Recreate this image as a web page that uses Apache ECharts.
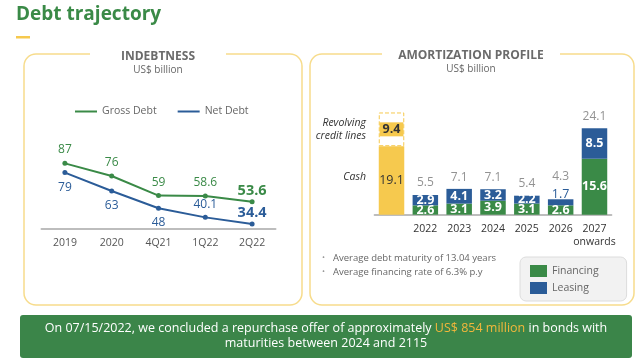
<!DOCTYPE html>
<html><head><meta charset="utf-8">
<script src="https://cdn.jsdelivr.net/npm/echarts@6/dist/echarts.min.js"></script>
<style>html,body{margin:0;padding:0;background:#fff}#c{width:640px;height:361px}</style>
</head><body><div id="c"></div>
<script>
// ---- data ----
var debtPeriods = ['2019', '2020', '4Q21', '1Q22', '2Q22'];
var grossDebt = [87, 76, 59, 58.6, 53.6];
var netDebt = [79, 63, 48, 40.1, 34.4];

var amortCats = ['', '2022', '2023', '2024', '2025', '2026', '2027\nonwards'];
var cash = [19.1, '-', '-', '-', '-', '-', '-'];
var revolving = [9.4, '-', '-', '-', '-', '-', '-'];
var financing = ['-', 2.6, 3.1, 3.9, 3.1, 2.6, 15.6];
var leasing = ['-', 2.9, 4.1, 3.2, 2.2, 1.7, 8.5];
var totals = ['-', 5.5, 7.1, 7.1, 5.4, 4.3, 24.1];

var GREEN = '#3a8a47', BLUE = '#2b5c98', YELLOW = '#f6c94e', GRAY = '#666';
var F = 'Open Sans';

var chart = echarts.init(document.getElementById('c'), null, {renderer: 'canvas'});

function bigLast(arr, color, posFn, distFn) {
  return arr.map(function (v, i) {
    var last = i === arr.length - 1;
    return {
      value: v,
      label: {
        position: posFn(i), distance: distFn(i),
        fontSize: last ? 14.5 : 12, fontWeight: last ? 'bold' : 'normal', color: color
      }
    };
  });
}

var option = {
  animation: false,
  textStyle: {fontFamily: F},
  grid: [
    {left: 41.5, width: 234, top: 148.4, height: 80.6},
    {left: 374.6, width: 236.8, top: 107.1, height: 107.6}
  ],
  xAxis: [
    {gridIndex: 0, type: 'category', data: debtPeriods, boundaryGap: true,
      axisLine: {lineStyle: {color: '#bdbdbd', width: 2}}, axisTick: {show: false},
      axisLabel: {color: '#555', fontSize: 10.5, margin: 9, fontFamily: F, interval: 0}},
    {gridIndex: 1, type: 'category', data: amortCats,
      axisLine: {lineStyle: {color: '#bdbdbd', width: 2}}, axisTick: {show: false},
      axisLabel: {color: '#333', fontSize: 10.5, margin: 8, lineHeight: 13, fontFamily: F, interval: 0}}
  ],
  yAxis: [
    {gridIndex: 0, type: 'value', min: 30, max: 100, show: false},
    {gridIndex: 1, type: 'value', min: 0, max: 30, show: false}
  ],
  legend: [
    {data: ['Gross Debt', 'Net Debt'], left: 75, top: 106, padding: 0, icon: 'rect', itemWidth: 22, itemHeight: 2,
      itemGap: 21, textStyle: {color: GRAY, fontSize: 10.5, fontFamily: F}},
    {data: ['Financing', 'Leasing'], orient: 'vertical', left: 520, top: 257, icon: 'rect',
      itemWidth: 17, itemHeight: 12, itemGap: 5, padding: [8, 28, 7, 10],
      backgroundColor: '#f2f2f2', borderColor: '#dcdcdc', borderWidth: 1, borderRadius: 6,
      textStyle: {color: GRAY, fontSize: 10.5, fontFamily: F}}
  ],
  series: [
    {name: 'Gross Debt', type: 'line', xAxisIndex: 0, yAxisIndex: 0, color: GREEN,
      data: bigLast(grossDebt, GREEN, function () { return 'top'; }, function (i) { return i === 4 ? 1 : 5; }),
      symbol: 'circle', symbolSize: 5, lineStyle: {width: 2},
      label: {show: true, fontFamily: F}},
    {name: 'Net Debt', type: 'line', xAxisIndex: 0, yAxisIndex: 0, color: BLUE,
      data: bigLast(netDebt, BLUE, function (i) { return i < 3 ? 'bottom' : 'top'; }, function (i) { return i < 3 ? 6 : (i === 4 ? 1 : 4); }),
      symbol: 'circle', symbolSize: 5, lineStyle: {width: 2},
      label: {show: true, fontFamily: F}},

    {name: 'Cash', type: 'bar', xAxisIndex: 1, yAxisIndex: 1, stack: 'a', data: cash, barWidth: 25.5,
      itemStyle: {color: YELLOW},
      label: {show: true, position: 'inside', color: '#333', fontSize: 12.5, fontFamily: F}},
    {name: 'Revolving', type: 'bar', xAxisIndex: 1, yAxisIndex: 1, stack: 'a', data: revolving, barWidth: 25.5,
      itemStyle: {color: '#fff', borderColor: YELLOW, borderWidth: 1, borderType: 'dashed'},
      label: {show: true, position: 'inside', color: '#333', fontSize: 12.5, fontWeight: 'bold', fontFamily: F,
        backgroundColor: YELLOW, padding: [1, 3, 0, 3]}},
    {name: 'Financing', type: 'bar', xAxisIndex: 1, yAxisIndex: 1, stack: 'a', data: financing, barWidth: 25.5,
      itemStyle: {color: GREEN},
      label: {show: true, position: 'inside', color: '#fff', fontSize: 12.5, fontWeight: 'bold', fontFamily: F}},
    {name: 'Leasing', type: 'bar', xAxisIndex: 1, yAxisIndex: 1, stack: 'a', barWidth: 25.5,
      data: leasing.map(function (v, i) {
        return i === 5 ? {value: v, label: {position: 'top', distance: -2, color: BLUE, fontWeight: 'normal'}} : v;
      }),
      itemStyle: {color: BLUE},
      label: {show: true, position: 'inside', color: '#fff', fontSize: 12.5, fontWeight: 'bold', fontFamily: F}},
    {name: 'Total', type: 'scatter', xAxisIndex: 1, yAxisIndex: 1, symbolSize: 0,
      data: totals.map(function (v, i) {
        return i === 5 ? {value: v, label: {distance: 17}} : v;
      }),
      label: {show: true, position: 'top', distance: 6, color: '#777', fontSize: 12, fontFamily: F}}
  ],
  graphic: [
    {type: 'text', left: 16, top: 5, style: {text: 'Debt trajectory', fill: GREEN, font: 'bold 19px ' + F}},
    {type: 'rect', shape: {x: 16, y: 36, width: 14, height: 2.5}, style: {fill: YELLOW}},

    {type: 'rect', shape: {x: 24, y: 54, width: 278, height: 251, r: 12}, style: {fill: 'none', stroke: '#f7dc8c', lineWidth: 1.5}},
    {type: 'rect', shape: {x: 90, y: 48, width: 136, height: 12}, style: {fill: '#fff'}},
    {type: 'text', x: 158, y: 57, style: {text: 'INDEBTNESS', fill: '#6b6b6b', font: 'bold 12px ' + F, textAlign: 'center', textVerticalAlign: 'middle'}},
    {type: 'text', x: 158, y: 70, style: {text: 'US$ billion', fill: GRAY, font: '10px ' + F, textAlign: 'center', textVerticalAlign: 'middle'}},

    {type: 'rect', shape: {x: 310, y: 54, width: 324, height: 251, r: 12}, style: {fill: 'none', stroke: '#f7dc8c', lineWidth: 1.5}},
    {type: 'rect', shape: {x: 382, y: 48, width: 178, height: 12}, style: {fill: '#fff'}},
    {type: 'text', x: 471, y: 56, style: {text: 'AMORTIZATION PROFILE', fill: '#6b6b6b', font: 'bold 12px ' + F, textAlign: 'center', textVerticalAlign: 'middle'}},
    {type: 'text', x: 471, y: 69, style: {text: 'US$ billion', fill: GRAY, font: '10px ' + F, textAlign: 'center', textVerticalAlign: 'middle'}},

    {type: 'text', x: 366, y: 123, style: {text: 'Revolving', fill: '#333', font: 'italic 10.5px ' + F, textAlign: 'right', textVerticalAlign: 'middle'}},
    {type: 'text', x: 366, y: 136, style: {text: 'credit lines', fill: '#333', font: 'italic 10.5px ' + F, textAlign: 'right', textVerticalAlign: 'middle'}},
    {type: 'text', x: 366, y: 177, style: {text: 'Cash', fill: '#333', font: 'italic 10.5px ' + F, textAlign: 'right', textVerticalAlign: 'middle'}},

    {type: 'text', x: 322, y: 258, style: {text: '•', fill: '#999', font: '8px ' + F, textVerticalAlign: 'middle'}},
    {type: 'text', x: 333, y: 258, style: {text: 'Average debt maturity of 13.04 years', fill: GRAY, font: '9.5px ' + F, textVerticalAlign: 'middle'}},
    {type: 'text', x: 322, y: 272, style: {text: '•', fill: '#999', font: '8px ' + F, textVerticalAlign: 'middle'}},
    {type: 'text', x: 333, y: 272, style: {text: 'Average financing rate of 6.3% p.y', fill: GRAY, font: '9.5px ' + F, textVerticalAlign: 'middle'}},

    {type: 'rect', shape: {x: 20, y: 315, width: 612, height: 43, r: 3}, style: {fill: '#3b8549'}},
    {type: 'text', x: 326, y: 336, style: {
      text: '{w|On 07/15/2022, we concluded a repurchase offer of approximately }{y|US$ 854 million}{w| in bonds with}\n{w|maturities between 2024 and 2115}',
      textAlign: 'center', textVerticalAlign: 'middle', font: '12.5px ' + F, lineHeight: 15,
      rich: {w: {fill: '#fff', font: '12.5px ' + F, lineHeight: 15}, y: {fill: '#f3b73b', font: '12.5px ' + F, lineHeight: 15}}
    }}
  ]
};
chart.setOption(option);
</script></body></html>
